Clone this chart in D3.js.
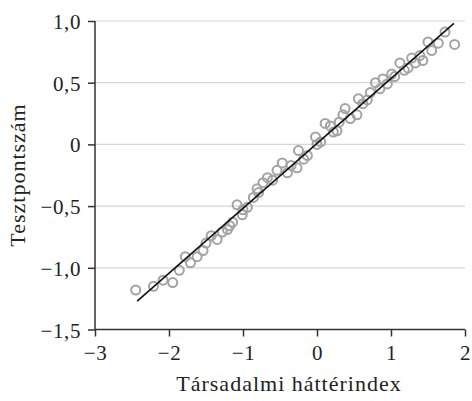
<!DOCTYPE html>
<html>
<head>
<meta charset="utf-8">
<script src="https://cdn.jsdelivr.net/npm/d3@7"></script>
<style>
  body { margin: 0; background: #fff; }
  text { font-family: "Liberation Serif", "DejaVu Serif", serif; fill: #222; }
</style>
</head>
<body>
<svg id="chart" width="472" height="401"></svg>
<script>
// scatter points (társadalmi háttérindex, tesztpontszám)
const xs = [-2.45,-2.21,-2.08,-1.95,-1.86,-1.78,-1.71,-1.62,-1.54,-1.50,-1.43,-1.35,-1.28,-1.21,-1.18,
  -1.14,-1.08,-1.01,-1.00,-0.94,-0.86,-0.81,-0.79,-0.73,-0.67,-0.60,-0.54,-0.47,-0.40,-0.35,-0.27,
  -0.25,-0.18,-0.13,-0.02,0.00,0.05,0.11,0.18,0.22,0.27,0.30,0.35,0.38,0.45,0.54,0.56,0.62,0.68,
  0.72,0.79,0.85,0.89,0.95,1.01,1.05,1.12,1.18,1.23,1.28,1.33,1.39,1.43,1.50,1.55,1.64,1.73,1.86]
const ys = [-1.18,-1.15,-1.10,-1.12,-1.02,-0.91,-0.96,-0.91,-0.86,-0.80,-0.74,-0.77,-0.71,-0.69,-0.66,
  -0.63,-0.49,-0.57,-0.53,-0.51,-0.43,-0.36,-0.39,-0.31,-0.27,-0.29,-0.21,-0.15,-0.23,-0.17,-0.19,
  -0.05,-0.12,-0.09,0.06,0.00,0.02,0.17,0.15,0.10,0.11,0.18,0.24,0.29,0.21,0.24,0.37,0.33,0.36,
  0.42,0.50,0.45,0.53,0.49,0.57,0.55,0.66,0.60,0.62,0.70,0.66,0.72,0.68,0.83,0.76,0.82,0.91,0.81]

// fitted line endpoints
const fitX = [-2.43, 1.85]
const fitY = [-1.27, 0.98]

const xTicks = [-3, -2, -1, 0, 1, 2]
const xTickLabels = ["\u22123", "\u22122", "\u22121", "0", "1", "2"]
const yTicks = [1.0, 0.5, 0, -0.5, -1.0, -1.5]
const yTickLabels = ["1,0", "0,5", "0", "\u22120,5", "\u22121,0", "\u22121,5"]

const xTitle = "Társadalmi háttérindex"
const yTitle = "Tesztpontszám"

const svg = d3.select("#chart")
const mLeft = 95, mRight = 465, mTop = 21, mBottom = 329.5

const x = d3.scaleLinear().domain([-3, 2]).range([mLeft, mRight])
const y = d3.scaleLinear().domain([-1.5, 1.0]).range([mBottom, mTop])

// gridlines
svg.append("g")
  .selectAll("line")
  .data(yTicks.filter(d => d > -1.5))
  .enter().append("line")
  .attr("x1", mLeft).attr("x2", mRight)
  .attr("y1", d => y(d)).attr("y2", d => y(d))
  .attr("stroke", "#d6d6d6").attr("stroke-width", 1.2)

// axes
const xAxis = d3.axisBottom(x).tickValues(xTicks).tickSize(7).tickPadding(9)
  .tickFormat((d, i) => xTickLabels[i])
const yAxis = d3.axisLeft(y).tickValues(yTicks).tickSize(7).tickPadding(7)
  .tickFormat((d, i) => yTickLabels[i])

const gx = svg.append("g").attr("transform", `translate(0,${mBottom})`).call(xAxis)
const gy = svg.append("g").attr("transform", `translate(${mLeft},0)`).call(yAxis)

for (const g of [gx, gy]) {
  g.select(".domain").attr("stroke", "#333").attr("stroke-width", 1.5)
  g.selectAll(".tick line").attr("stroke", "#333").attr("stroke-width", 1.5)
  g.selectAll(".tick text")
    .attr("font-family", "Liberation Serif, DejaVu Serif, serif")
    .attr("font-size", 21).attr("letter-spacing", 0.6).attr("fill", "#222")
}
gx.select(".domain").attr("d", `M${mLeft},0H${mRight}`)
gy.select(".domain").attr("d", `M0,${mBottom}V${mTop}`)
gy.selectAll(".tick text").attr("dy", "0.36em")

// points
svg.append("g")
  .selectAll("circle")
  .data(xs.map((d, i) => ({x: d, y: ys[i]})))
  .enter().append("circle")
  .attr("cx", d => x(d.x))
  .attr("cy", d => y(d.y))
  .attr("r", 4.5)
  .attr("fill", "none")
  .attr("stroke", "#a3a3a3")
  .attr("stroke-width", 2)

// fit line
svg.append("line")
  .attr("x1", x(fitX[0])).attr("y1", y(fitY[0]))
  .attr("x2", x(fitX[1])).attr("y2", y(fitY[1]))
  .attr("stroke", "#111").attr("stroke-width", 1.6)

// titles
svg.append("text")
  .attr("x", 289).attr("y", 391)
  .attr("text-anchor", "middle").attr("font-size", 22)
  .attr("letter-spacing", 1)
  .text(xTitle)

svg.append("text")
  .attr("transform", `translate(25,175) rotate(-90)`)
  .attr("text-anchor", "middle").attr("font-size", 22)
  .attr("letter-spacing", 1)
  .text(yTitle)
</script>
</body>
</html>
